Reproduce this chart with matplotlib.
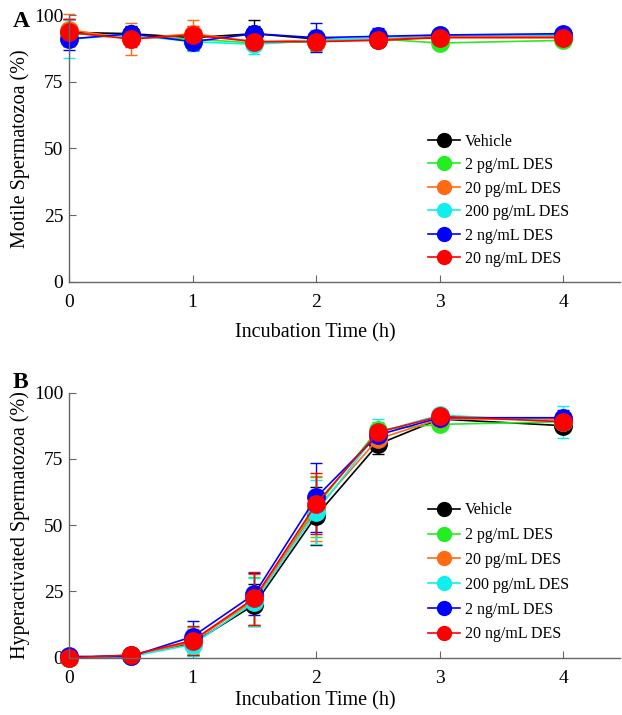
import numpy as np
import matplotlib.pyplot as plt

plt.rcParams['font.family'] = ['Liberation Serif', 'DejaVu Serif']

hours = [0, 0.5, 1, 1.5, 2, 2.5, 3, 4]
labels = ["Vehicle", "2 pg/mL DES", "20 pg/mL DES", "200 pg/mL DES",
          "2 ng/mL DES", "20 ng/mL DES"]
colors = ["#000000", "#22ee22", "#ff6a13", "#11eeee", "#0000ff", "#ff0000"]

# panel A: motile spermatozoa (%)
motile = [
    [93.5, 93.0, 91.5, 93.0, 91.0, 90.5, 92.0, 92.5],
    [93.0, 92.0, 91.0, 89.5, 90.0, 91.0, 89.5, 90.5],
    [94.5, 91.0, 93.0, 90.0, 90.5, 91.0, 92.0, 92.0],
    [91.0, 92.5, 90.0, 89.0, 90.5, 91.5, 92.5, 92.5],
    [91.0, 93.0, 90.0, 93.0, 91.5, 92.0, 92.5, 93.0],
    [93.5, 91.0, 92.5, 90.0, 90.0, 90.5, 91.5, 91.5],
]
motile_err = [
    [5.0, 2.5, 2.5, 5.0, 2.5, 2.0, 1.5, 1.0],
    [3.0, 2.0, 2.5, 2.0, 2.0, 1.5, 1.0, 1.0],
    [6.0, 6.0, 5.0, 2.0, 2.5, 1.5, 1.5, 1.0],
    [7.0, 3.0, 3.5, 3.5, 4.0, 2.0, 1.5, 1.0],
    [4.0, 3.0, 3.0, 3.0, 5.5, 3.0, 1.5, 1.0],
    [5.0, 3.0, 3.5, 3.0, 3.0, 2.0, 1.5, 1.0],
]

# panel B: hyperactivated spermatozoa (%)
hyper = [
    [0.0, 1.0, 5.5, 20.0, 53.5, 80.5, 90.0, 87.5],
    [0.0, 0.5, 6.5, 21.5, 57.0, 86.0, 88.0, 89.0],
    [0.0, 0.5, 6.0, 22.0, 56.0, 82.5, 90.0, 90.0],
    [0.0, 0.5, 5.0, 21.0, 55.0, 85.0, 91.5, 89.0],
    [0.5, 0.5, 8.0, 24.0, 60.5, 84.0, 90.5, 90.5],
    [0.0, 1.0, 6.5, 22.5, 58.0, 85.0, 91.0, 89.0],
]
hyper_err = [
    [0.5, 1.0, 4.5, 8.0, 11.0, 3.5, 1.5, 2.5],
    [0.5, 1.0, 5.0, 9.0, 11.5, 3.0, 1.5, 2.5],
    [0.5, 1.0, 5.0, 9.5, 12.0, 3.0, 1.5, 2.5],
    [0.5, 1.0, 4.5, 9.0, 12.0, 5.0, 2.0, 6.0],
    [0.5, 1.0, 6.0, 8.0, 13.0, 3.0, 1.5, 3.0],
    [0.5, 1.0, 5.5, 10.0, 11.5, 3.0, 1.5, 3.0],
]

fig = plt.figure(figsize=(6.22, 7.15), dpi=100)
axA = fig.add_axes([0.111, 0.606, 0.886, 0.373])
axB = fig.add_axes([0.111, 0.080, 0.886, 0.371])


def draw(ax, vals, errs, ylabel, letter, letter_y, xlab_y, leg_y, leg_sp):
    handles = []
    for i in range(len(labels)):
        c = ax.errorbar(hours, vals[i], yerr=errs[i], color=colors[i], marker='o',
                        markersize=12.5, linewidth=1.2, elinewidth=1.0, capsize=4,
                        capthick=1.0, label=labels[i])
        handles.append(c[0])
    ax.set_xlim(0, 4.46)
    ax.set_ylim(0, 100)
    ax.set_xticks([0, 1, 2, 3, 4])
    ax.set_yticks([0, 25, 50, 75, 100])
    for s in ['top', 'right']:
        ax.spines[s].set_visible(False)
    for s in ['left', 'bottom']:
        ax.spines[s].set_color('#666666')
        ax.spines[s].set_linewidth(1.0)
    ax.tick_params(direction='in', length=5, color='#666666', labelsize=14, pad=4)
    ax.tick_params(axis='x', pad=9)
    ax.set_xlabel("Incubation Time (h)", fontsize=14.5)
    ax.xaxis.set_label_coords(0.446, xlab_y)
    ax.set_ylabel(ylabel, fontsize=14.5)
    ax.yaxis.set_label_coords(-0.071, 0.5)
    ax.text(-0.102, letter_y, letter, transform=ax.transAxes, fontsize=17,
            fontweight='bold', va='center', ha='left')
    ax.legend(handles=handles, labels=labels, loc='lower left',
              bbox_to_anchor=(0.637, leg_y), borderpad=0, frameon=False,
              fontsize=11.5, handlelength=2.0, labelspacing=leg_sp,
              handletextpad=0.3, markerscale=0.8)
    for line in ax.lines:
        line.set_clip_on(False)


draw(axA, motile, motile_err, "Motile Spermatozoa (%)", "A",
     0.974, -0.157, 0.025, 0.47)
draw(axB, hyper, hyper_err, "Hyperactivated Spermatozoa (%)", "B",
     1.038, -0.125, 0.028, 0.55)

fig.savefig("out.png", dpi=100)
